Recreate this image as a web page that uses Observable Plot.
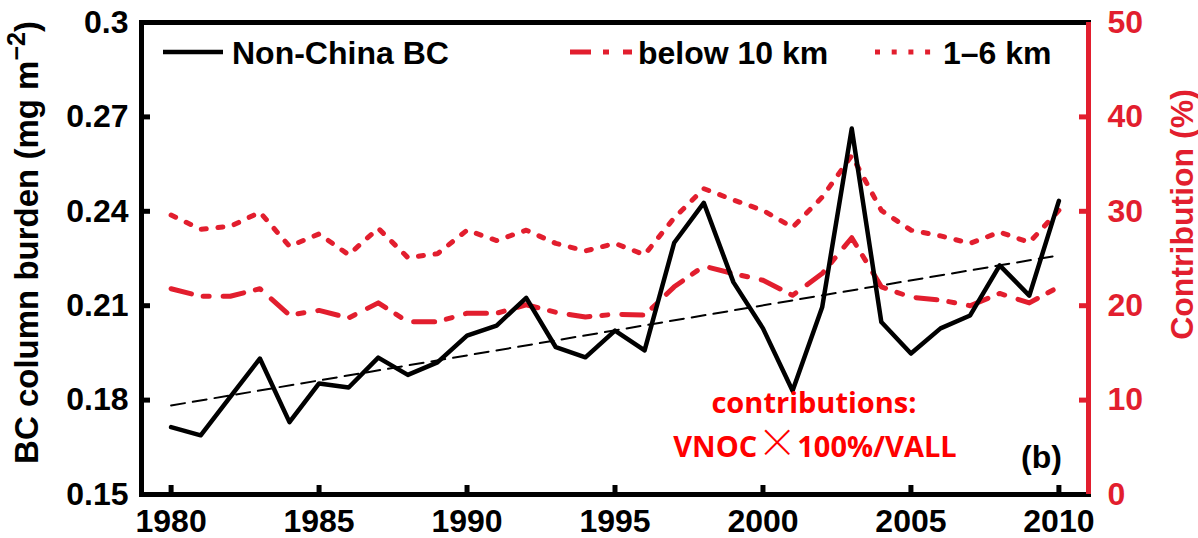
<!DOCTYPE html>
<html>
<head>
<meta charset="utf-8">
<script src="https://cdn.jsdelivr.net/npm/d3@7"></script>
<script src="https://cdn.jsdelivr.net/npm/@observablehq/plot@0.6"></script>
<style>
  html, body { margin: 0; padding: 0; background: #fff; }
  #wrap { position: relative; width: 1198px; height: 538px; }
  #legend { position: absolute; left: 0; top: 0; pointer-events: none; }
</style>
</head>
<body>
<div id="wrap"></div>
<script>
// ---- data ----
const years = [1980,1981,1982,1983,1984,1985,1986,1987,1988,1989,1990,1991,1992,1993,1994,1995,1996,1997,1998,1999,2000,2001,2002,2003,2004,2005,2006,2007,2008,2009,2010];
const nonChinaBC = [0.1714,0.1688,0.1810,0.1932,0.1730,0.1853,0.1840,0.1935,0.1880,0.1920,0.2005,0.2037,0.2125,0.1968,0.1936,0.2021,0.1958,0.2300,0.2427,0.2175,0.2028,0.1830,0.2095,0.2663,0.2048,0.1948,0.2028,0.2069,0.2228,0.2132,0.2433];
const below10km = [21.8,21.0,21.0,21.8,19.0,19.5,18.7,20.3,18.3,18.3,19.2,19.2,20.1,19.3,18.8,19.1,19.0,22.0,24.2,23.4,22.7,21.1,23.4,27.2,22.0,20.9,20.6,20.0,21.3,20.3,22.0];
const km1to6 = [29.6,28.1,28.4,29.9,26.3,27.6,25.4,28.2,25.1,25.5,28.0,26.9,28.0,26.6,25.8,26.6,25.4,29.3,32.4,31.2,30.1,28.3,31.5,35.9,30.1,28.0,27.4,26.6,27.8,26.7,30.1];
const trendYears = [1980, 2010];
const trendValues = [0.1783, 0.2260];
const xTicks = [1980,1985,1990,1995,2000,2005,2010];
const leftTicks = [0.15,0.18,0.21,0.24,0.27,0.30];
const rightTicks = [0,10,20,30,40,50];
const xDomain = [1979, 2011];
const leftDomain = [0.15, 0.30];
const rightDomain = [0, 50];
const leftTitle = "BC column burden (mg m\u22122)";
const rightTitle = "Contribution (%)";
const note1 = "contributions:";
const note2 = "VNOC\u00D7100%/VALL";
const panelTag = "(b)";

// ---- build ----
const red = "#e21e2e";
const toLeft = v => leftDomain[0] + (v - rightDomain[0]) * (leftDomain[1] - leftDomain[0]) / (rightDomain[1] - rightDomain[0]);
const fromLeft = v => rightDomain[0] + (v - leftDomain[0]) * (rightDomain[1] - rightDomain[0]) / (leftDomain[1] - leftDomain[0]);

const rows = years.map((year, i) => ({year, nonChina: nonChinaBC[i], below10: below10km[i], km16: km1to6[i]}));
const trendRows = trendYears.map((year, i) => ({year, value: trendValues[i]}));

const font = "'Liberation Sans', Arial, Helvetica, sans-serif";
const W = 1198, H = 538, mL = 141, mR = 110, mT = 22, mB = 44;
const frameW = W - mL - mR, frameH = H - mT - mB;
const tickLen = 9;

const chart = Plot.plot({
  width: W,
  height: H,
  marginLeft: mL,
  marginRight: mR,
  marginTop: mT,
  marginBottom: mB,
  x: {domain: xDomain},
  y: {domain: leftDomain},
  style: {fontFamily: font, fontWeight: "bold", fontSize: "32px", background: "white", color: "black", overflow: "visible"},
  marks: [
    Plot.line(trendRows, {x: "year", y: "value", stroke: "black", strokeWidth: 2, strokeDasharray: "14,8"}),
    Plot.line(rows, {x: "year", y: d => toLeft(d.below10), stroke: red, strokeWidth: 5, strokeDasharray: "21,12,6,14"}),
    Plot.line(rows, {x: "year", y: d => toLeft(d.km16), stroke: red, strokeWidth: 5, strokeDasharray: "5,11.7"}),
    Plot.line(rows, {x: "year", y: "nonChina", stroke: "black", strokeWidth: 4.5}),
    // tick labels
    Plot.axisX({ticks: xTicks, tickFormat: d => String(d), tickSize: 0, tickPadding: 15, fontSize: 32, label: null}),
    Plot.axisY({ticks: leftTicks, tickFormat: d => String(+d.toFixed(2)), tickSize: 0, tickPadding: 13, fontSize: 32, label: null}),
    Plot.axisY({anchor: "right", ticks: rightTicks.map(toLeft), tickFormat: d => String(Math.round(fromLeft(d))), tickSize: 0, tickPadding: 19, color: red, fontSize: 32, label: null}),
    // inward tick marks
    Plot.tickX(xTicks, {x: d => d, stroke: "black", strokeWidth: 5, insetTop: frameH - tickLen}),
    Plot.tickY(leftTicks, {y: d => d, stroke: "black", strokeWidth: 5, insetRight: frameW - tickLen}),
    Plot.tickY(rightTicks.map(toLeft), {y: d => d, stroke: red, strokeWidth: 5, insetLeft: frameW - tickLen}),
    Plot.frame({stroke: "black", strokeWidth: 5}),
    Plot.ruleX([xDomain[1]], {stroke: red, strokeWidth: 5}),
    Plot.text([leftTitle], {text: d => d, frameAnchor: "left", rotate: -90, dx: -114, dy: -16, fontSize: 33, fontWeight: "bold", textAnchor: "middle", fill: "black"}),
    Plot.text([rightTitle], {text: d => d, frameAnchor: "right", rotate: -90, dx: 94, dy: -44, fontSize: 32, fontWeight: "bold", textAnchor: "middle", fill: red}),
    Plot.text([note1], {text: d => d, frameAnchor: "bottom", dx: 199, dy: -82, fontSize: 29, fontWeight: "bold", fontFamily: "'Open Sans', Lato, sans-serif", fill: "#ff0000", textAnchor: "middle"}),
    Plot.text([note2], {text: d => d, frameAnchor: "bottom", dx: 200, dy: -38, fontSize: 29, fontWeight: "bold", fontFamily: "'Open Sans', Lato, sans-serif", fill: "#ff0000", textAnchor: "middle"}),
    Plot.text([panelTag], {text: d => d, frameAnchor: "bottom-right", dx: -47, dy: -27, fontSize: 32, fontWeight: "bold", fill: "black", textAnchor: "middle"})
  ]
});

document.getElementById("wrap").appendChild(chart);

// superscript and multiplication sign as tspans
d3.select(chart).selectAll("text").filter(function() { return this.textContent === leftTitle; }).each(function() {
  const t = d3.select(this);
  t.text(null);
  t.append("tspan").text("BC column burden (mg m");
  t.append("tspan").attr("dy", "-13").attr("font-size", "25").text("\u22122");
  t.append("tspan").attr("dy", "13").text(")");
});
d3.select(chart).selectAll("text").filter(function() { return this.textContent === note2; }).each(function() {
  const t = d3.select(this);
  t.text(null);
  t.append("tspan").text("VNOC");
  t.append("tspan").attr("font-family", "'Noto Sans CJK JP', 'Noto Sans CJK SC', sans-serif").attr("font-weight", "300").attr("font-size", "40").text("\u00D7");
  t.append("tspan").text("100%/VALL");
});

// legend overlay (inside the plot frame, top)
const leg = d3.select("#wrap").append("svg").attr("id", "legend").attr("width", W).attr("height", H)
  .style("font-family", font).style("font-weight", "bold").style("font-size", "32px");
const legendItems = [
  {label: "Non-China BC", stroke: "black", width: 4.5, dash: null, x1: 163, x2: 223, tx: 232},
  {label: "below 10 km", stroke: red, width: 5, dash: "21,12,6,14", x1: 570, x2: 632, tx: 638},
  {label: "1\u20136 km", stroke: red, width: 5, dash: "5,11.7", x1: 875, x2: 935, tx: 943}
];
for (const it of legendItems) {
  leg.append("line").attr("x1", it.x1).attr("x2", it.x2).attr("y1", 52).attr("y2", 52)
    .attr("stroke", it.stroke).attr("stroke-width", it.width).attr("stroke-dasharray", it.dash);
  leg.append("text").attr("x", it.tx).attr("y", 64).attr("fill", "black").text(it.label);
}
</script>
</body>
</html>
